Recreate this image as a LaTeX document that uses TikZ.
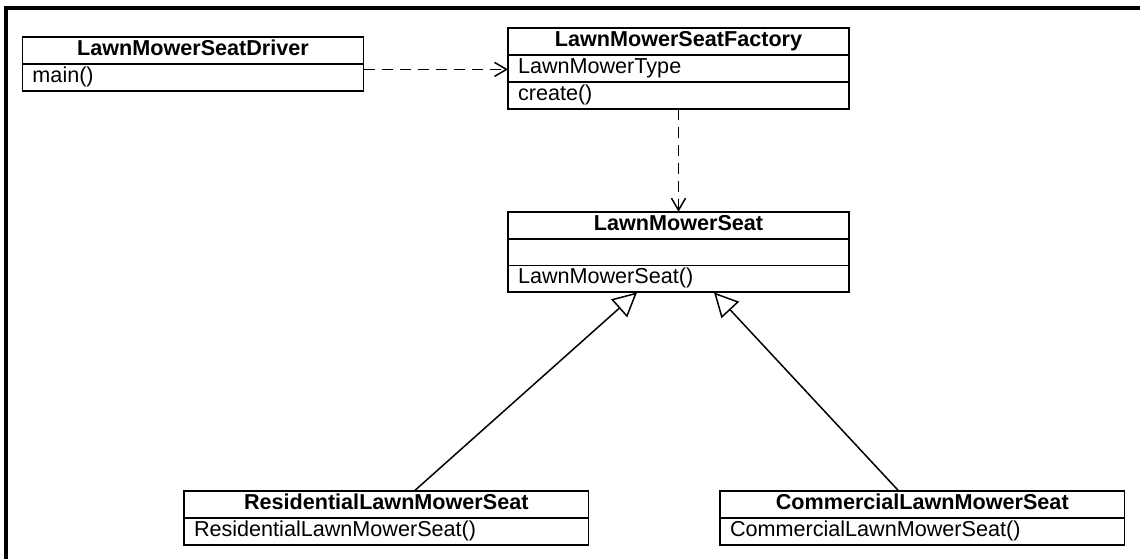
\documentclass[tikz,border=0pt]{standalone}
\usepackage{fontspec}
\setmainfont{Liberation Sans}
\usepackage{tikz}
\usetikzlibrary{shapes.multipart,positioning,arrows.meta}
\setlength{\parindent}{0pt}
\newcommand{\umlfont}{\fontsize{10.8}{12.5}\selectfont}

\begin{document}
\begin{tikzpicture}[
  x=0.5pt, y=-0.5pt,
  umlclass/.style={draw, line width=0.95pt, fill=white, rectangle split,
                   rectangle split parts=2, inner xsep=5pt, inner ysep=0pt,
                   outer sep=0pt, align=left, font=\umlfont, anchor=north west},
  narrow/.style={text width=160.5pt},
  wide/.style={text width=192.25pt},
  dep/.style={draw, line width=0.75pt, dash pattern=on 5.5pt off 3.5pt,
              -{Straight Barb[length=6pt, width=7pt]}},
  inherit/.style={draw, line width=0.75pt, -{Triangle[open, length=12pt, width=12pt]}},
  frameline/.style={draw, line width=1.6pt},
]
  \useasboundingbox (0,0) rectangle (1140,558);
  \draw[frameline] (1150,8) -- (6,8) -- (6,570);

  % Classes
  \node[umlclass, narrow] (driver) at (22.5,37)
    {{\centering\bfseries\strut LawnMowerSeatDriver\par}
     \nodepart{two}\strut main()};
  \node[umlclass, narrow, rectangle split parts=3] (factory) at (508,28)
    {{\centering\bfseries\strut LawnMowerSeatFactory\par}
     \nodepart{two}\strut LawnMowerType
     \nodepart{three}\strut create()};
  \node[umlclass, narrow, rectangle split parts=3, below=51.5pt of factory] (seat)
    {{\centering\bfseries\strut LawnMowerSeat\par}
     \nodepart{two}\strut
     \nodepart{three}\strut LawnMowerSeat()};
  \node[umlclass, wide] (residential) at (184,491)
    {{\centering\bfseries\strut ResidentialLawnMowerSeat\par}
     \nodepart{two}\strut ResidentialLawnMowerSeat()};
  \node[umlclass, wide] (commercial) at (720,491)
    {{\centering\bfseries\strut CommercialLawnMowerSeat\par}
     \nodepart{two}\strut CommercialLawnMowerSeat()};

  % Dependencies
  \draw[dep] ([yshift=-2.75pt]driver.east) -- ([yshift=-2.75pt]driver.east -| factory.west);
  \draw[dep] (factory.south) -- (seat.north);

  % Generalisations
  \draw[inherit] ([xshift=14pt]residential.north) -- ([xshift=-20.75pt]seat.south);
  \draw[inherit] ([xshift=-11.75pt]commercial.north) -- ([xshift=17.75pt]seat.south);
\end{tikzpicture}
\end{document}
